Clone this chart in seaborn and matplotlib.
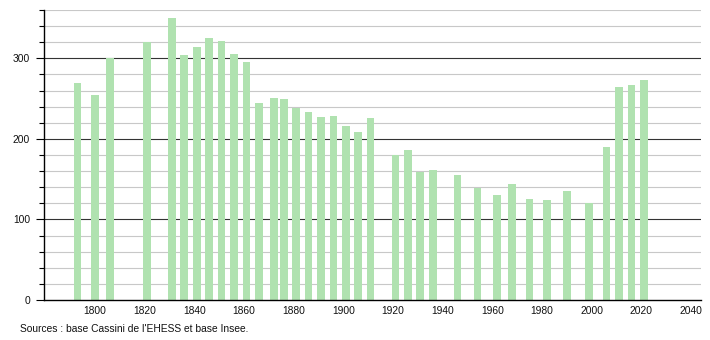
import matplotlib
matplotlib.use("Agg")
import matplotlib.pyplot as plt
import seaborn as sns
import pandas as pd
from matplotlib.ticker import MultipleLocator

years = [1793, 1800, 1806, 1821, 1831, 1836, 1841, 1846, 1851, 1856,
         1861, 1866, 1872, 1876, 1881, 1886, 1891, 1896, 1901, 1906,
         1911, 1921, 1926, 1931, 1936, 1946, 1954, 1962, 1968, 1975,
         1982, 1990, 1999, 2006, 2011, 2016, 2021]
population = [270, 255, 301, 320, 350, 304, 314, 325, 321, 305,
              295, 245, 251, 249, 238, 233, 227, 229, 216, 208,
              226, 180, 186, 159, 162, 155, 139, 130, 144, 126,
              124, 135, 121, 190, 265, 267, 273]
x_ticks = [1800, 1820, 1840, 1860, 1880, 1900, 1920, 1940, 1960, 1980, 2000, 2020, 2040]
y_ticks = [0, 100, 200, 300]
source_text = "Sources : base Cassini de l'EHESS et base Insee."

df = pd.DataFrame({"year": years, "population": population})

sns.set_style("white")
plt.rcParams["font.family"] = ["Liberation Sans", "DejaVu Sans"]
plt.rcParams["text.color"] = "#111111"
plt.rcParams["xtick.color"] = "#111111"
plt.rcParams["ytick.color"] = "#111111"

fig = plt.figure(figsize=(7.1, 3.4), dpi=100)
ax = fig.add_axes([44 / 710, 40 / 340, (701 - 44) / 710, 290 / 340])

for v in range(20, 361, 20):
    if v % 100 == 0:
        ax.axhline(v, color="#333333", lw=0.8, zorder=0)
    else:
        ax.axhline(v, color="#c8c8c8", lw=0.8, zorder=0)

sns.barplot(data=df, x="year", y="population", native_scale=True,
            color="#b0e2b0", saturation=1, width=3.1 / 4, ax=ax,
            errorbar=None, zorder=2, linewidth=0)

ax.set_xlim(1779.5, 2044)
ax.set_ylim(0, 360)
ax.set_xticks(x_ticks)
ax.set_yticks(y_ticks)
ax.yaxis.set_minor_locator(MultipleLocator(20))
ax.set_xlabel("")
ax.set_ylabel("")
for s in ["top", "right"]:
    ax.spines[s].set_visible(False)
for s in ["left", "bottom"]:
    ax.spines[s].set_color("black")
    ax.spines[s].set_linewidth(1.0)
ax.tick_params(axis="y", which="major", length=6, width=0.8, color="black",
               labelcolor="#111111", labelsize=7.4, pad=4, left=True)
ax.tick_params(axis="y", which="minor", length=3.5, width=0.8, color="black", left=True)
ax.tick_params(axis="x", which="major", length=0, labelcolor="#111111",
               labelsize=7.4, pad=4, bottom=False)
ax.set_facecolor("white")

fig.text(20 / 710, 11 / 340, source_text, fontsize=7.4, ha="left", va="center",
         color="#111111")

fig.savefig("out.png", dpi=100)
